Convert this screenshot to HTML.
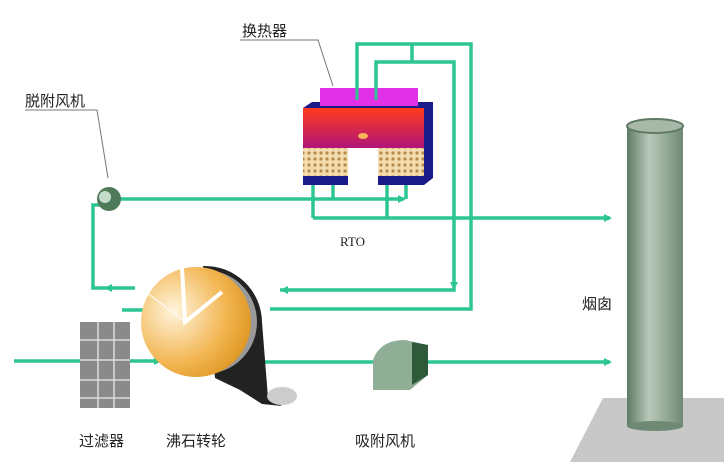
<!DOCTYPE html>
<html><head><meta charset="utf-8"><style>
html,body{margin:0;padding:0;background:#fff;}
svg{display:block;}
text{font-family:"Liberation Sans","Noto Sans CJK SC",sans-serif;font-size:15px;fill:#222;}
</style></head><body>
<svg width="724" height="470" viewBox="0 0 724 470" xmlns="http://www.w3.org/2000/svg">
<defs>
<marker id="a" markerWidth="8" markerHeight="8" refX="6" refY="4" orient="auto" markerUnits="userSpaceOnUse">
<path d="M0,0 L8,4 L0,8 Z" fill="#2dc592"/></marker>
<pattern id="mesh" width="6" height="6" patternUnits="userSpaceOnUse">
<rect width="6" height="6" fill="#f3dcae"/><circle cx="3" cy="3" r="1.6" fill="#b58a4a"/></pattern>
<linearGradient id="red" x1="0" y1="0" x2="0" y2="1"><stop offset="0" stop-color="#ff3b1a"/><stop offset="1" stop-color="#b0157a"/></linearGradient>
<linearGradient id="chim" x1="0" y1="0" x2="1" y2="0"><stop offset="0" stop-color="#5f7a64"/><stop offset="0.4" stop-color="#b9c9bb"/><stop offset="1" stop-color="#6f8a74"/></linearGradient>
<radialGradient id="wh" cx="0.3" cy="0.4" r="0.8"><stop offset="0" stop-color="#fff4dc"/><stop offset="0.6" stop-color="#f2b550"/><stop offset="1" stop-color="#d98f16"/></radialGradient>
</defs>
<polygon points="603,398 724,398 724,462 570,462" fill="#c8c8c8"/>
<rect x="627" y="126" width="56" height="300" fill="url(#chim)"/>
<ellipse cx="655" cy="426" rx="28" ry="5" fill="#6f8a74"/>
<ellipse cx="655" cy="126" rx="28" ry="7" fill="#a7b8a9" stroke="#5f7a64" stroke-width="2"/>
<g stroke="#2dc592" stroke-width="3.5" fill="none">
<polyline points="357,98 357,44 471,44 471,309 270,309"/>
<polyline points="376,98 376,62 454,62 454,290 280,290"/>
<line x1="412" y1="44" x2="412" y2="62"/>
<line x1="115" y1="199" x2="404" y2="199" marker-end="url(#a)"/>
<line x1="333" y1="199" x2="333" y2="180"/>
<line x1="406" y1="199" x2="406" y2="180"/>
<line x1="313" y1="185" x2="313" y2="218"/>
<line x1="387" y1="185" x2="387" y2="218"/>
<line x1="313" y1="218" x2="610" y2="218" marker-end="url(#a)"/>
<polyline points="135,288 93,288 93,205 100,205"/>
<line x1="122" y1="310" x2="192" y2="310" marker-end="url(#a)"/>
<line x1="14" y1="361" x2="80" y2="361"/>
<line x1="130" y1="361" x2="160" y2="361" marker-end="url(#a)"/>
<line x1="265" y1="362" x2="610" y2="362" marker-end="url(#a)"/>
</g>
<path d="M104,288 L112,284 L112,292 Z" fill="#2dc592"/>
<path d="M280,290 L288,286 L288,294 Z" fill="#2dc592"/>
<path d="M450,282 L458,282 L454,290 Z" fill="#2dc592"/>
<polygon points="303,108 312,102 433,102 433,178 424,185 424,108" fill="#1a1a8a"/>
<rect x="320" y="88" width="98" height="18" fill="#e030e8"/>
<rect x="303" y="108" width="121" height="40" fill="url(#red)"/>
<ellipse cx="363" cy="136" rx="5" ry="3" fill="#f7b45a"/>
<rect x="303" y="148" width="45" height="30" fill="url(#mesh)"/>
<rect x="378" y="148" width="46" height="30" fill="url(#mesh)"/>
<rect x="303" y="176" width="45" height="9" fill="#1a1a8a"/>
<rect x="378" y="176" width="46" height="9" fill="#1a1a8a"/>
<g stroke="#2dc592" stroke-width="3" fill="none"><line x1="357" y1="80" x2="357" y2="100"/><line x1="376" y1="80" x2="376" y2="100"/></g>
<polyline points="240,40 318,40 333,86" stroke="#777" fill="none"/>
<polyline points="25,110 97,110 108,178" stroke="#777" fill="none"/>
<circle cx="109" cy="199" r="12" fill="#4f7a5a"/><circle cx="105" cy="197" r="6" fill="#c6dccb"/>
<!-- wheel -->
<path d="M203,266 A57,57 0 0 1 262,322 L268,398 L282,406 L262,404 L240,390 L215,378 Z" fill="#222"/>
<circle cx="205" cy="322" r="52" fill="#999"/>
<ellipse cx="282" cy="396" rx="15" ry="9" fill="#ccc"/>
<circle cx="196" cy="322" r="55" fill="url(#wh)"/>
<path d="M182,268 L185,322 L222,292" stroke="#fff" stroke-width="4" fill="none"/>
<path d="M185,322 L146,292" stroke="#fff" stroke-width="1" fill="none"/>
<rect x="80" y="322" width="50" height="86" fill="#8a8a8a"/>
<g stroke="#ddd" stroke-width="1.5"><line x1="80" y1="340" x2="130" y2="340"/><line x1="80" y1="360" x2="130" y2="360"/><line x1="80" y1="380" x2="130" y2="380"/><line x1="80" y1="398" x2="130" y2="398"/><line x1="98" y1="322" x2="98" y2="408"/><line x1="114" y1="322" x2="114" y2="408"/></g>
<path d="M373,390 L373,360 Q380,340 405,340 L428,345 L428,375 L410,390 Z" fill="#8fae95"/>
<path d="M412,342 L428,345 L428,375 L412,385 Z" fill="#2f5a3a"/>
<text x="242" y="36">换热器</text>
<text x="25" y="106">脱附风机</text>
<text x="340" y="246" style="font-family:'Liberation Serif',serif;font-size:13px">RTO</text>
<text x="582" y="309">烟囱</text>
<text x="79" y="446">过滤器</text>
<text x="166" y="446">沸石转轮</text>
<text x="355" y="446">吸附风机</text>
</svg>
</body></html>
